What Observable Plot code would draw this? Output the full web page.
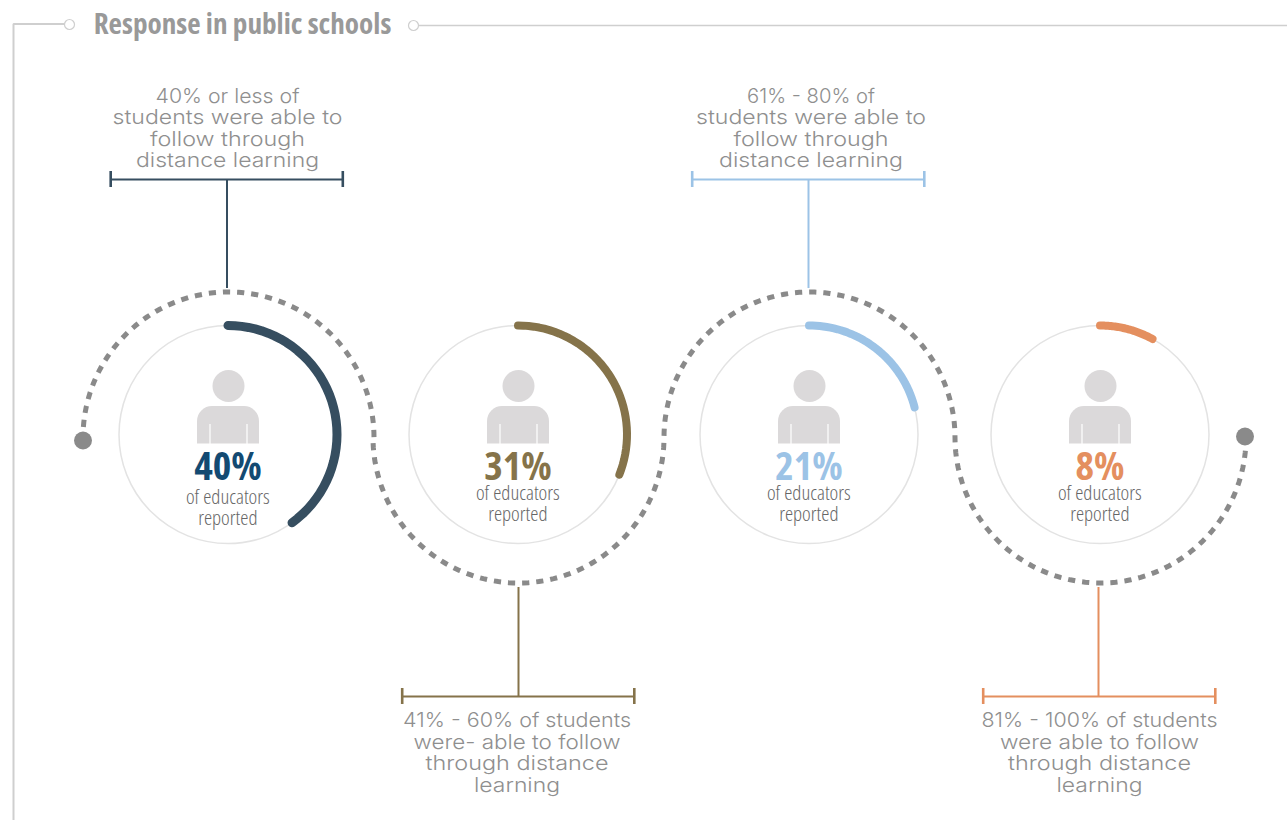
<!DOCTYPE html>
<html>
<head>
<meta charset="utf-8">
<script src="https://cdn.jsdelivr.net/npm/d3@7"></script>
<script src="https://cdn.jsdelivr.net/npm/@observablehq/plot@0.6"></script>
<style>
  html, body { margin: 0; padding: 0; background: #fff; }
  svg { display: block; }
</style>
</head>
<body>
<div id="chart"></div>
<script>
// Share of educators reporting each level of follow-through
const categories = ["40% or less", "41% - 60%", "61% - 80%", "81% - 100%"];
const educatorShare = [40, 31, 21, 8];
const bandLabels = [
  ["40% or less of", "students were able to", "follow through", "distance learning"],
  ["41% - 60% of students", "were- able to follow", "through distance", "learning"],
  ["61% - 80% of", "students were able to", "follow through", "distance learning"],
  ["81% - 100% of students", "were able to follow", "through distance", "learning"]
];
const arcColors = ["#364e60", "#85734a", "#9cc3e6", "#e48f5f"];
const shareColors = ["#134a72", "#85734a", "#9cc3e6", "#e48f5f"];
const titleText = "Response in public schools";
const captionText = "of educators\nreported";

// Page layout, in the pixel units of the plot's linear scales
const W = 1287, H = 820;
const centers = [228, 518, 809, 1100];
const stemX = [226.5, 518, 808, 1098];
const bracketMid = [226.5, 518, 808, 1099];
const labelMid = [227, 516.5, 810.5, 1099];
const labelWidths = [
  [144, 230, 155, 183],
  [228, 207, 183, 86],
  [128, 230, 155, 184],
  [236, 199, 183, 86]
];
const labelRowsUp = [96, 117, 139, 160.5];
const labelRowsDown = [720, 742, 763, 785];
const cy = 434, ringR = 109, waveR = 145.5, waveY = 437;
const gray = "#8a8a8a", frame = "#cfcfcf", person = "#dbd9da";

const polar = (cx, y0, r, deg) => {
  const a = deg * Math.PI / 180;
  return {x: cx + r * Math.sin(a), y: y0 - r * Math.cos(a)};
};

const rows = categories.map((category, i) => {
  const up = i % 2 === 0;
  return {
    category, i, up,
    share: educatorShare[i],
    cx: centers[i],
    stem: stemX[i],
    mid: bracketMid[i],
    barY: up ? 179 : 696,
    stemEnd: up ? 288 : 587,
    color: arcColors[i],
    shareColor: shareColors[i],
    pctY: 467,
    captionY: i === 0 ? 507 : 503
  };
});

// One row per printed line of the band labels
const labelLines = rows.flatMap(r =>
  bandLabels[r.i].map((text, k) => ({
    text,
    x: labelMid[r.i],
    y: (r.up ? labelRowsUp : labelRowsDown)[k],
    w: labelWidths[r.i][k]
  }))
);

// Progress arc: clockwise from twelve o'clock, one full turn at 100%
const arcs = rows.flatMap(r =>
  d3.range(0, 41).map(k => ({
    ...polar(r.cx - 0.5, cy, ringR, (r.share / 100) * 360 * k / 40),
    category: r.category, color: r.color, w: r.i === 0 ? 9 : 8
  }))
);

// Dashed wave: alternating half circles round each ring
const wave = rows.flatMap(r =>
  d3.range(0, 91).map(k => {
    const deg = r.up ? -90 + 2 * k : 270 - 2 * k;
    return polar(r.cx, waveY, waveR, deg);
  })
);

const chart = Plot.plot({
  width: W, height: H,
  margin: 0,
  x: {domain: [0, W], range: [0, W], axis: null},
  y: {domain: [0, H], range: [0, H], axis: null},
  style: {background: "#fff", fontFamily: "'Open Sans'"},
  marks: [
    // Frame round the section, broken by the title
    Plot.line([{x: 13, y: 820}, {x: 13, y: 23.5}, {x: 64, y: 23.5}], {x: "x", y: "y", stroke: frame, strokeWidth: 2, strokeLinejoin: "miter"}),
    Plot.line([{x: 418, y: 25}, {x: W, y: 25}], {x: "x", y: "y", stroke: frame, strokeWidth: 1.5}),
    Plot.dot([{x: 69, y: 24}, {x: 413, y: 25}], {x: "x", y: "y", r: 5, fill: "#fff", stroke: frame, strokeWidth: 1.2}),
    Plot.text([titleText], {
      x: 242, y: 24, text: d => d, fontSize: 29.2, fontWeight: 700, fill: "#999", className: "cond"
    }),

    // Rings
    Plot.dot(rows, {x: r => r.cx - 0.5, y: cy, r: ringR, stroke: "#e3e3e3", strokeWidth: 1.5, fill: "#fff"}),

    // Wave and its end dots
    Plot.line(wave, {x: "x", y: "y", stroke: gray, strokeWidth: 5, strokeDasharray: "7.2 6.96", strokeDashoffset: 3.6, strokeLinecap: "butt"}),
    Plot.dot([{x: 82.5, y: 440}, {x: 1244.5, y: 436}], {x: "x", y: "y", r: 9, fill: gray}),

    // Brackets joining the wave to each band label
    Plot.ruleY(rows, {y: "barY", x1: r => r.mid - 116.3, x2: r => r.mid + 115.8, stroke: "color", strokeWidth: 2.2}),
    Plot.ruleX(rows, {x: r => r.mid - 116.3, y1: r => r.barY - 8, y2: r => r.barY + 8, stroke: "color", strokeWidth: 2.6}),
    Plot.ruleX(rows, {x: r => r.mid + 115.8, y1: r => r.barY - 8, y2: r => r.barY + 8, stroke: "color", strokeWidth: 2.6}),
    Plot.ruleX(rows, {x: "stem", y1: "barY", y2: "stemEnd", stroke: "color", strokeWidth: 2}),

    // Progress arcs
    Plot.line(arcs, {x: "x", y: "y", z: "category", stroke: "color", strokeWidth: "w", strokeLinecap: "round"}),

    // Person icon
    Plot.dot(rows, {x: "cx", y: 385.5, r: 16, fill: person}),
    Plot.rect(rows, {x1: r => r.cx - 31, x2: r => r.cx + 31, y1: 406, y2: 440, fill: person, rx: 15}),
    Plot.rect(rows, {x1: r => r.cx - 31, x2: r => r.cx + 31, y1: 422, y2: 443.5, fill: person}),
    Plot.ruleX(rows, {x: r => r.cx - 18.5, y1: 424, y2: 444, stroke: "#fff", strokeWidth: 1.2}),
    Plot.ruleX(rows, {x: r => r.cx + 18.5, y1: 424, y2: 444, stroke: "#fff", strokeWidth: 1.2}),

    // Figures inside the rings
    Plot.text(rows, {x: r => r.cx - 0.5, y: "pctY", text: r => `${r.share}%`, fontSize: 39.5, fontWeight: 700, fill: "shareColor", className: "cond"}),
    Plot.text(rows, {x: r => r.cx - 0.7, y: "captionY", text: () => captionText, fontSize: 20.7, lineHeight: 1.04, fontWeight: 300, fill: "#666", className: "cond"}),

    // Band labels
    Plot.text(labelLines, {x: "x", y: "y", text: "text", fontSize: 20, fill: "#8f8f8f", fontFamily: "Inter", fontWeight: 300, className: "band"})
  ]
});

document.getElementById("chart").append(chart);

// Narrow cut for the title and ring figures; band labels are fitted to their set width
d3.select(chart).selectAll(".cond").style("font-stretch", "75%");
d3.select(chart).selectAll(".band text").each(function (_, i) {
  this.setAttribute("textLength", labelLines[i].w);
  this.setAttribute("lengthAdjust", "spacingAndGlyphs");
});
</script>
</body>
</html>
